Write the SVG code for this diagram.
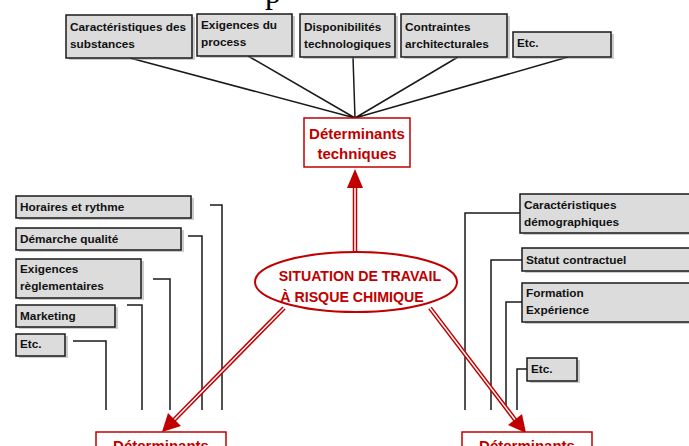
<svg xmlns="http://www.w3.org/2000/svg" width="689" height="446" viewBox="0 0 689 446">
<style>
.box{fill:#dcdcdc;stroke:#1a1a1a;stroke-width:1.5}
.sh{fill:#9a9a9a;opacity:0.5}
.t{font-family:"Liberation Sans",Arial,sans-serif;font-weight:bold;font-size:11.8px;fill:#111}
.rt{font-family:"Liberation Sans",Arial,sans-serif;font-weight:bold;font-size:15px;fill:#c00000;text-anchor:middle}
.rbox{fill:#fff;stroke:#c00000;stroke-width:1.5}
.ln{fill:none;stroke:#1a1a1a;stroke-width:1.5}
.ar{fill:none;stroke:#c00000;stroke-width:4.5}
.ari{fill:none;stroke:#fff;stroke-width:1.5}
.ah{fill:#c00000}
</style>
<rect width="689" height="446" fill="#fff"/>
<text x="265" y="3" font-family="Liberation Serif,serif" font-size="32" fill="#000">p</text>

<g id="connectors">
  <path class="ln" d="M130,58 L355,118 M248,56 L355,118 M353,57 L355,118 M458,57 L355,118 M568,57 L355,118"/>
  <path class="ln" d="M210,205 H222 V410 M188,236 H202 V410 M153,279 H170 V410 M127,305 H142 V410 M73,341 H106 V410"/>
  <path class="ln" d="M520,213 H465 V410 M522,260 H491 V410 M522,302 H506 V410 M527,369 H517 V410"/>
  <path class="ar" d="M355,252 V186"/><path class="ari" d="M355,252 V186"/>
  <polygon class="ah" points="355,169 347,188 363,188"/>
  <path class="ar" d="M284,308 L174,420"/><path class="ari" d="M284,308 L174,420"/>
  <polygon class="ah" points="162,432 168,413 181,426"/>
  <path class="ar" d="M430,308 L516,421"/><path class="ari" d="M430,308 L516,421"/>
  <polygon class="ah" points="526,433 508,425 522,414"/>
</g>

<g id="n-substances"><rect class="sh" x="69" y="17" width="126" height="43"/><rect class="box" x="66" y="15" width="126" height="43"/><text class="t" x="70" y="31">Caractéristiques des</text><text class="t" x="70" y="48">substances</text></g>
<g id="n-process"><rect class="sh" x="200" y="16" width="95" height="42"/><rect class="box" x="197" y="14" width="95" height="42"/><text class="t" x="201" y="29">Exigences du</text><text class="t" x="201" y="46">process</text></g>
<g id="n-techno"><rect class="sh" x="303" y="16" width="95" height="43"/><rect class="box" x="300" y="14" width="95" height="43"/><text class="t" x="304" y="31">Disponibilités</text><text class="t" x="304" y="48">technologiques</text></g>
<g id="n-archi"><rect class="sh" x="404" y="16" width="106" height="43"/><rect class="box" x="401" y="14" width="106" height="43"/><text class="t" x="405" y="31">Contraintes</text><text class="t" x="405" y="48">architecturales</text></g>
<g id="n-etc-top"><rect class="sh" x="516" y="34" width="98" height="25"/><rect class="box" x="513" y="32" width="98" height="25"/><text class="t" x="517" y="47">Etc.</text></g>

<g id="n-det-tech"><rect class="rbox" x="304" y="118" width="106" height="49"/><text class="rt" x="357" y="139">Déterminants</text><text class="rt" x="357" y="159">techniques</text></g>

<g id="n-situation"><ellipse cx="356" cy="282" rx="101" ry="30" fill="#fff" stroke="#c00000" stroke-width="2"/><text class="rt" x="360" y="281" style="font-size:14.2px">SITUATION DE TRAVAIL</text><text class="rt" x="352" y="302" style="font-size:14.2px">À RISQUE CHIMIQUE</text></g>

<g id="n-horaires"><rect class="sh" x="19" y="198" width="175" height="22"/><rect class="box" x="16" y="196" width="175" height="22"/><text class="t" x="20" y="211">Horaires et rythme</text></g>
<g id="n-qualite"><rect class="sh" x="19" y="230" width="165" height="22"/><rect class="box" x="16" y="228" width="165" height="22"/><text class="t" x="20" y="243">Démarche qualité</text></g>
<g id="n-regl"><rect class="sh" x="19" y="261" width="125" height="39"/><rect class="box" x="16" y="259" width="125" height="39"/><text class="t" x="20" y="273">Exigences</text><text class="t" x="20" y="290">règlementaires</text></g>
<g id="n-marketing"><rect class="sh" x="19" y="307" width="99" height="22"/><rect class="box" x="16" y="305" width="99" height="22"/><text class="t" x="20" y="320">Marketing</text></g>
<g id="n-etc-left"><rect class="sh" x="19" y="336" width="49" height="22"/><rect class="box" x="16" y="334" width="49" height="22"/><text class="t" x="20" y="348">Etc.</text></g>

<g id="n-demo"><rect class="sh" x="523" y="196" width="180" height="39"/><rect class="box" x="520" y="194" width="180" height="39"/><text class="t" x="524" y="209">Caractéristiques</text><text class="t" x="524" y="226">démographiques</text></g>
<g id="n-statut"><rect class="sh" x="525" y="250" width="180" height="23"/><rect class="box" x="522" y="248" width="180" height="23"/><text class="t" x="526" y="264">Statut contractuel</text></g>
<g id="n-formation"><rect class="sh" x="525" y="285" width="180" height="39"/><rect class="box" x="522" y="283" width="180" height="39"/><text class="t" x="526" y="297">Formation</text><text class="t" x="526" y="314">Expérience</text></g>
<g id="n-etc-right"><rect class="sh" x="530" y="360" width="50" height="23"/><rect class="box" x="527" y="358" width="50" height="23"/><text class="t" x="531" y="373">Etc.</text></g>

<g id="n-det-left"><rect class="rbox" x="96" y="432" width="130" height="30"/><text class="rt" x="161" y="451">Déterminants</text></g>
<g id="n-det-right"><rect class="rbox" x="462" y="432" width="130" height="30"/><text class="rt" x="527" y="451">Déterminants</text></g>
</svg>
